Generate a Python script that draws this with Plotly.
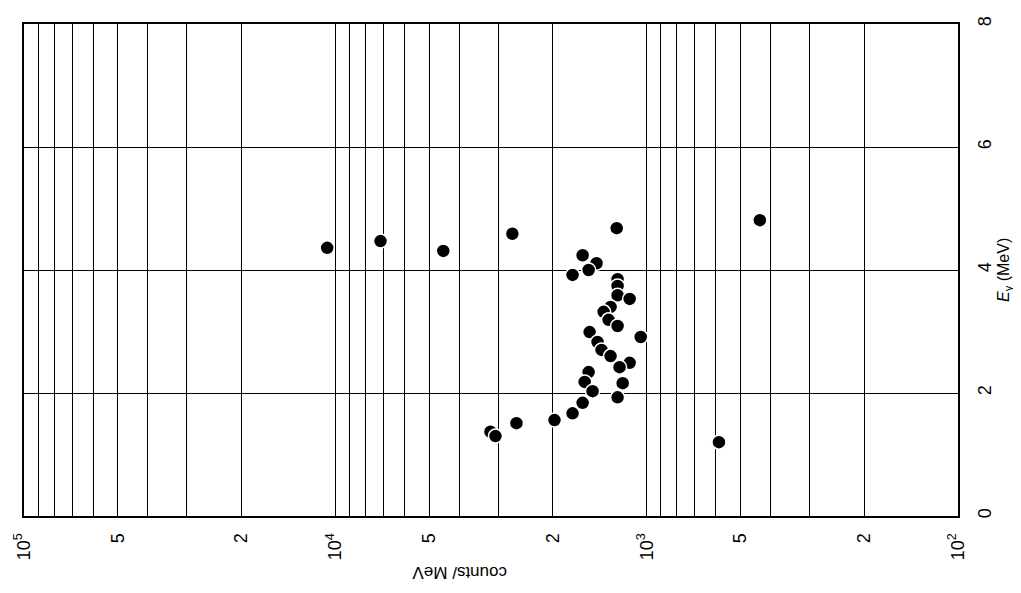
import math
import plotly.graph_objects as go

# Data read from the (rotated) reference chart; ordered so lower-energy points draw on top
counts = [433, 1248, 2700, 7160, 10620, 4500, 1606, 1449, 1536, 1730, 1240, 1240,
          1240, 1134, 1306, 1375, 1325, 1240, 1525, 1045, 1438, 1396, 1306,
          1134, 1222, 1536, 1582, 1194, 1492, 1240, 1606, 1730, 1977, 2620,
          3175, 3060, 586]
energy = [4.81, 4.68, 4.59, 4.47, 4.36, 4.31, 4.24, 4.11, 4.00, 3.92, 3.85, 3.74,
          3.59, 3.53, 3.40, 3.32, 3.19, 3.09, 2.99, 2.91, 2.83, 2.70, 2.60,
          2.49, 2.42, 2.34, 2.18, 2.16, 2.03, 1.93, 1.84, 1.67, 1.56, 1.51,
          1.37, 1.30, 1.20]

x_tick_vals = [k * 10 ** n for n in (2, 3, 4) for k in range(1, 10)] + [1e5]
x_tick_text = []
for v in x_tick_vals:
    n = int(math.floor(math.log10(v) + 1e-9))
    k = round(v / 10 ** n)
    if k == 1:
        x_tick_text.append(f"10<sup>{n}</sup>")
    elif k in (2, 5):
        x_tick_text.append(str(k))
    else:
        x_tick_text.append("")

y_tick_vals = [0, 2, 4, 6, 8]
y_tick_text = ["0", "2", "4", "6", "8"]

font = "Liberation Sans, Arial, sans-serif"

fig = go.Figure()
fig.add_trace(go.Scatter(
    x=counts, y=energy, mode="markers",
    marker=dict(size=14, color="black", line=dict(color="white", width=1.5)),
    showlegend=False, cliponaxis=False,
))

# page body adds an 8px offset, so the figure is sized/margined to compensate
fig.update_layout(
    width=1005, height=577,
    margin=dict(l=16, r=55, t=16, b=69),
    paper_bgcolor="white", plot_bgcolor="white",
    font=dict(family=font, size=18, color="black"),
    xaxis=dict(
        type="log", range=[5, 2], automargin=False,
        tickvals=x_tick_vals, ticktext=x_tick_text,
        tickfont=dict(family=font, size=18, color="black"),
        tickangle=-90, ticks="", ticklabelstandoff=8,
        showgrid=True, gridcolor="black", gridwidth=1.3,
        showline=True, linecolor="black", linewidth=2, mirror=True,
        zeroline=False,
    ),
    yaxis=dict(
        range=[0, 8], side="right", automargin=False,
        tickvals=y_tick_vals, ticktext=y_tick_text,
        tickfont=dict(family=font, size=18, color="black"),
        tickangle=-90, ticks="", ticklabelstandoff=9,
        showgrid=True, gridcolor="black", gridwidth=1.3,
        showline=True, linecolor="black", linewidth=2, mirror=True,
        zeroline=False,
    ),
    annotations=[
        dict(text="counts/ MeV", textangle=180, showarrow=False,
             xref="paper", yref="paper", x=(460 - 24) / 934, y=-(573 - 516) / 492,
             xanchor="center", yanchor="middle",
             font=dict(family=font, size=17, color="black")),
        dict(text="<i>E</i><sub>γ</sub> (MeV)", textangle=-90, showarrow=False,
             xref="paper", yref="paper", x=(1004 - 24) / 934, y=(516 - 270) / 492,
             xanchor="center", yanchor="middle",
             font=dict(family=font, size=16, color="black")),
    ],
)

fig.write_html("out.html")
